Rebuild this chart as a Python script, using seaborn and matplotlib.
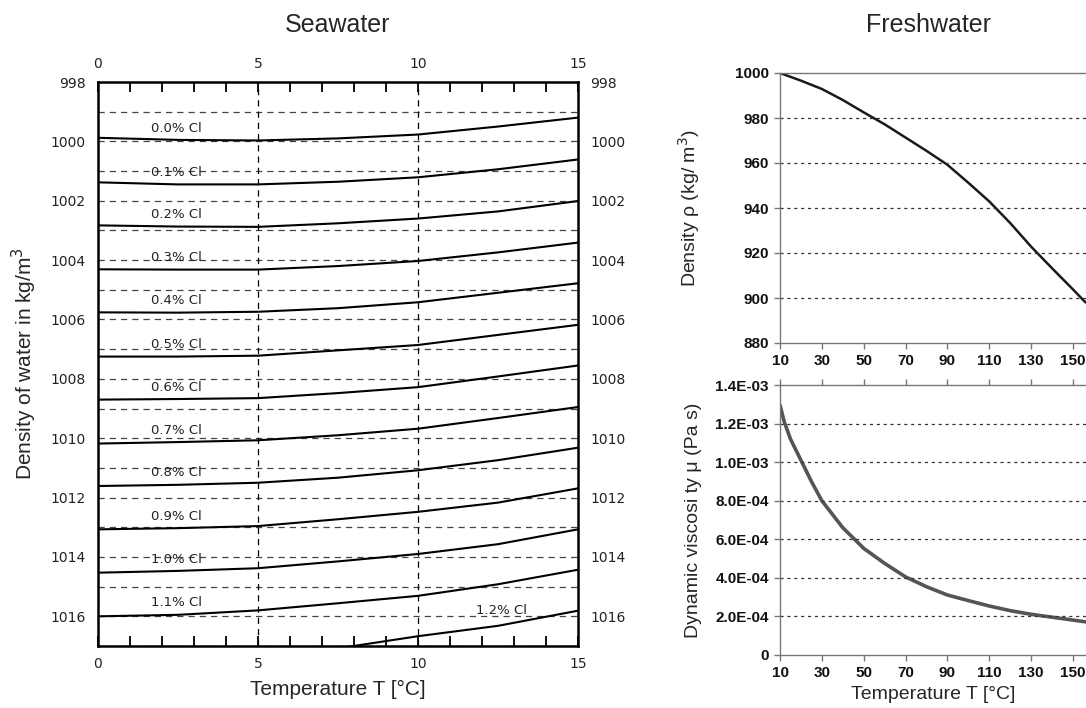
import matplotlib
matplotlib.use("Agg")
import matplotlib.pyplot as plt
import pandas as pd
import seaborn as sns
from matplotlib.ticker import FuncFormatter, MultipleLocator

# Seawater: density (kg/m3) vs temperature for several chlorinities
temp_sea = [0, 2.5, 5, 7.5, 10, 12.5, 15]
cl_labels = ["0.0% Cl", "0.1% Cl", "0.2% Cl", "0.3% Cl", "0.4% Cl", "0.5% Cl", "0.6% Cl",
             "0.7% Cl", "0.8% Cl", "0.9% Cl", "1.0% Cl", "1.1% Cl", "1.2% Cl"]
cl_00 = [999.88, 999.95, 999.97, 999.90, 999.77, 999.50, 999.20]
cl_01 = [1001.38, 1001.45, 1001.45, 1001.36, 1001.21, 1000.94, 1000.61]
cl_02 = [1002.83, 1002.87, 1002.88, 1002.76, 1002.60, 1002.36, 1002.01]
cl_03 = [1004.31, 1004.32, 1004.32, 1004.20, 1004.03, 1003.74, 1003.41]
cl_04 = [1005.76, 1005.77, 1005.74, 1005.62, 1005.42, 1005.10, 1004.78]
cl_05 = [1007.25, 1007.25, 1007.22, 1007.04, 1006.86, 1006.52, 1006.18]
cl_06 = [1008.70, 1008.68, 1008.65, 1008.48, 1008.28, 1007.92, 1007.55]
cl_07 = [1010.18, 1010.13, 1010.07, 1009.90, 1009.68, 1009.32, 1008.95]
cl_08 = [1011.61, 1011.57, 1011.50, 1011.33, 1011.08, 1010.74, 1010.32]
cl_09 = [1013.07, 1013.03, 1012.96, 1012.73, 1012.48, 1012.17, 1011.69]
cl_10 = [1014.53, 1014.47, 1014.38, 1014.15, 1013.90, 1013.57, 1013.07]
cl_11 = [1016.00, 1015.95, 1015.80, 1015.56, 1015.31, 1014.92, 1014.43]
# 1.2% only visible from ~7.5 degC (rest is below the axis)
temp_cl_12 = [7.5, 10, 12.5, 15]
cl_12 = [1017.08, 1016.67, 1016.32, 1015.81]

# Freshwater
temp_rho = [10, 20, 30, 40, 50, 60, 70, 80, 90, 100, 110, 120, 130, 140, 150, 156]
rho_fresh = [1000.0, 996.6, 992.9, 988.0, 982.5, 977.2, 971.3, 965.4, 959.2,
             951.2, 942.9, 933.3, 922.8, 913.2, 903.8, 898.0]
temp_mu = [10, 12, 15, 20, 25, 30, 40, 50, 60, 70, 80, 90, 100, 110, 120, 130, 140, 150, 156]
mu_fresh = [1.296e-3, 1.21e-3, 1.12e-3, 1.01e-3, 0.90e-3, 0.80e-3, 0.66e-3, 0.553e-3,
            0.475e-3, 0.405e-3, 0.354e-3, 0.311e-3, 0.282e-3, 0.254e-3, 0.230e-3,
            0.211e-3, 0.196e-3, 0.181e-3, 0.172e-3]

sns.set_theme(style="white")
plt.rcParams["font.family"] = ["Liberation Sans", "DejaVu Sans"]

W, H = 1086, 708
fig = plt.figure(figsize=(W / 100, H / 100), dpi=100)


def box(x0, y0, x1, y1):
    return [x0 / W, 1 - y1 / H, (x1 - x0) / W, (y1 - y0) / H]


# ---------------- Seawater ----------------
ax = fig.add_axes(box(98, 82, 578, 646))
curves = [cl_00, cl_01, cl_02, cl_03, cl_04, cl_05, cl_06, cl_07, cl_08, cl_09, cl_10, cl_11]
for vals in curves:
    sns.lineplot(x=temp_sea, y=vals, color="black", lw=1.5, ax=ax)
sns.lineplot(x=temp_cl_12, y=cl_12, color="black", lw=1.5, ax=ax)

for lab, vals in zip(cl_labels[:-1], curves):
    ax.text(2.45, vals[1] - 0.4, lab, ha="center", va="center", fontsize=9.5,
            color="#222222", family="DejaVu Sans")
ax.text(12.6, cl_12[2] - 0.5, cl_labels[-1], ha="center", va="center", fontsize=9.5,
        color="#222222", family="DejaVu Sans")

ax.set_xlim(0, 15)
ax.set_ylim(1017, 998)
ax.set_xticks([0, 5, 10, 15])
ax.xaxis.set_minor_locator(MultipleLocator(1))
ax.set_yticks(range(998, 1017, 2))
ax.yaxis.set_minor_locator(MultipleLocator(1))
ax.grid(axis="y", which="both", color="#444444", linestyle=(0, (5, 4)), lw=0.9)
for xv in [5, 10]:
    ax.axvline(xv, color="black", linestyle=(0, (5, 4)), lw=0.9)
ax.tick_params(axis="x", which="both", direction="in", length=7, width=1.3,
               top=True, bottom=True, labeltop=True, labelbottom=True,
               labelsize=10, pad=8, colors="black")
ax.tick_params(axis="y", which="both", length=0, left=False, right=False,
               labelleft=True, labelright=True, labelsize=10, pad=9)
for lbl in ax.get_xticklabels() + ax.get_yticklabels():
    lbl.set_family("DejaVu Sans")
    lbl.set_color("#222222")
for sp in ax.spines.values():
    sp.set_visible(True)
    sp.set_color("black")
    sp.set_linewidth(1.8)
ax.set_xlabel("Temperature T [\u00b0C]", fontsize=15, labelpad=6)
ax.set_ylabel("Density of water in kg/m$^3$", fontsize=15, labelpad=8)

# ---------------- Freshwater: density ----------------
ax1 = fig.add_axes(box(780, 73, 1086, 343))
sns.lineplot(x=temp_rho, y=rho_fresh, color="#1a1a1a", lw=1.8, ax=ax1)
ax1.set_xlim(10, 156.2)
ax1.set_ylim(880, 1000)
ax1.set_xticks(range(10, 151, 20))
ax1.set_yticks(range(880, 1001, 20))
for yv in range(900, 1000, 20):
    ax1.axhline(yv, color="#333333", linestyle=(0, (2.5, 3)), lw=0.9)
ax1.set_ylabel("Density \u03c1 (kg/ m$^3$)", fontsize=14)

# ---------------- Freshwater: viscosity ----------------
ax2 = fig.add_axes(box(780, 385, 1086, 655))
sns.lineplot(x=temp_mu, y=mu_fresh, color="#555555", lw=2.6, ax=ax2)
ax2.set_xlim(10, 156.2)
ax2.set_ylim(0, 1.4e-3)
ax2.set_xticks(range(10, 151, 20))
ax2.set_yticks([i * 2e-4 for i in range(8)])
ax2.yaxis.set_major_formatter(FuncFormatter(lambda v, p: "0" if abs(v) < 1e-9 else f"{v:.1E}"))
for i in range(1, 7):
    ax2.axhline(i * 2e-4, color="#333333", linestyle=(0, (2.5, 3)), lw=0.9)
ax2.set_ylabel("Dynamic viscosi ty \u03bc (Pa s)", fontsize=14)
ax2.set_xlabel("Temperature T [\u00b0C]", fontsize=14, labelpad=4)

for a in (ax1, ax2):
    a.spines["right"].set_visible(False)
    for s in ("left", "bottom", "top"):
        a.spines[s].set_visible(True)
        a.spines[s].set_color("#777777")
        a.spines[s].set_linewidth(1.0)
    a.tick_params(axis="both", direction="out", length=4, width=1, color="#777777",
                  left=True, bottom=True, labelsize=11, pad=4, labelcolor="#111111")
    for lbl in a.get_xticklabels() + a.get_yticklabels():
        lbl.set_fontweight("bold")
    a.yaxis.set_label_coords(-0.255, 0.5)
ax2.tick_params(axis="x", top=True)
ax1.set_xlabel("")

fig.text(338 / W, 1 - 25 / H, "Seawater", ha="center", va="center", fontsize=18)
fig.text(928 / W, 1 - 25 / H, "Freshwater", ha="center", va="center", fontsize=18)

fig.savefig("out.png", dpi=100)
